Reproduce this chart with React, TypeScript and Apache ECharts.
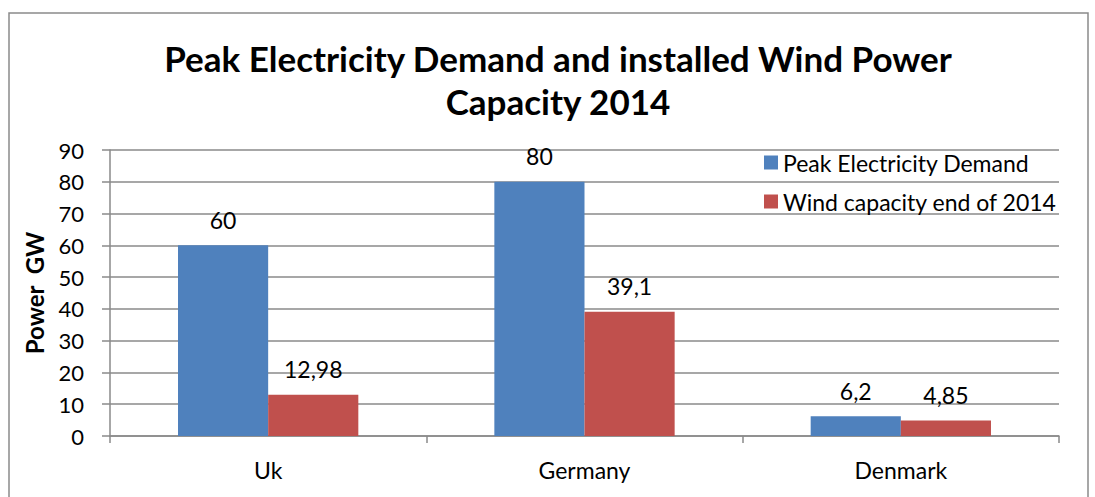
import React, { useEffect, useRef } from "react";
import * as echarts from "echarts";

const countries = ["Uk", "Germany", "Denmark"];
const peakDemand = [60, 80, 6.2];
const windCapacity = [12.98, 39.1, 4.85];
const seriesNames = ["Peak Electricity Demand", "Wind capacity end of 2014"];

const FONT = "Lato, 'Open Sans', sans-serif";

const fmt = (v: number) => String(v).replace(".", ",");

export default function App() {
  const ref = useRef<HTMLDivElement>(null);

  useEffect(() => {
    if (!ref.current) return;
    const chart = echarts.init(ref.current, undefined, { renderer: "svg" });
    const labelStyle = {
      show: true,
      position: "top" as const,
      distance: 14,
      color: "#000",
      fontSize: 23,
      fontFamily: FONT,
      formatter: (p: any) => fmt(p.value),
    };
    chart.setOption({
      animation: false,
      backgroundColor: "#fff",
      textStyle: { fontFamily: FONT },
      title: {
        text: "Peak Electricity Demand and installed Wind Power\nCapacity 2014",
        left: 553,
        textAlign: "center",
        top: 31,
        textStyle: {
          fontSize: 35,
          fontWeight: "bold",
          color: "#000",
          fontFamily: FONT,
          lineHeight: 43,
        },
      },
      legend: {
        orient: "vertical",
        left: 759,
        top: 146,
        itemWidth: 14,
        itemHeight: 14,
        itemGap: 16,
        icon: "rect",
        textStyle: { fontSize: 23, color: "#000", fontFamily: FONT },
        data: seriesNames,
      },
      graphic: [
        {
          type: "rect",
          shape: { x: 9, y: 13, width: 1079, height: 500 },
          style: { fill: "none", stroke: "#8a8a8a", lineWidth: 1.5 },
          silent: true,
        },
      ],
      grid: { left: 110, right: 36, top: 150, bottom: 61 },
      xAxis: {
        type: "category",
        data: countries,
        axisLine: { lineStyle: { color: "#8a8a8a", width: 1.5 } },
        axisTick: { show: true, length: 7, lineStyle: { color: "#8a8a8a", width: 1.5 } },
        axisLabel: { color: "#000", fontSize: 23, fontFamily: FONT, margin: 22 },
      },
      yAxis: {
        type: "value",
        min: 0,
        max: 90,
        interval: 10,
        name: "Power  GW",
        nameLocation: "middle",
        nameGap: 64,
        nameTextStyle: { fontSize: 24, fontWeight: "bold", color: "#000", fontFamily: FONT },
        axisLine: { show: true, lineStyle: { color: "#8a8a8a", width: 1.5 } },
        axisTick: { show: true, length: 8, lineStyle: { color: "#8a8a8a", width: 1.5 } },
        axisLabel: { color: "#000", fontSize: 22, fontFamily: FONT, margin: 26 },
        splitLine: { lineStyle: { color: "#8a8a8a", width: 1.5 } },
      },
      series: [
        {
          name: seriesNames[0],
          type: "bar",
          data: peakDemand,
          barGap: "0%",
          barCategoryGap: "43%",
          itemStyle: { color: "#4f81bd" },
          label: labelStyle,
        },
        {
          name: seriesNames[1],
          type: "bar",
          data: windCapacity,
          itemStyle: { color: "#c0504d" },
          label: labelStyle,
        },
      ],
    });
    return () => chart.dispose();
  }, []);

  return (
    <div
      ref={ref}
      style={{ position: "absolute", left: 0, top: 0, width: 1095, height: 497 }}
    />
  );
}
